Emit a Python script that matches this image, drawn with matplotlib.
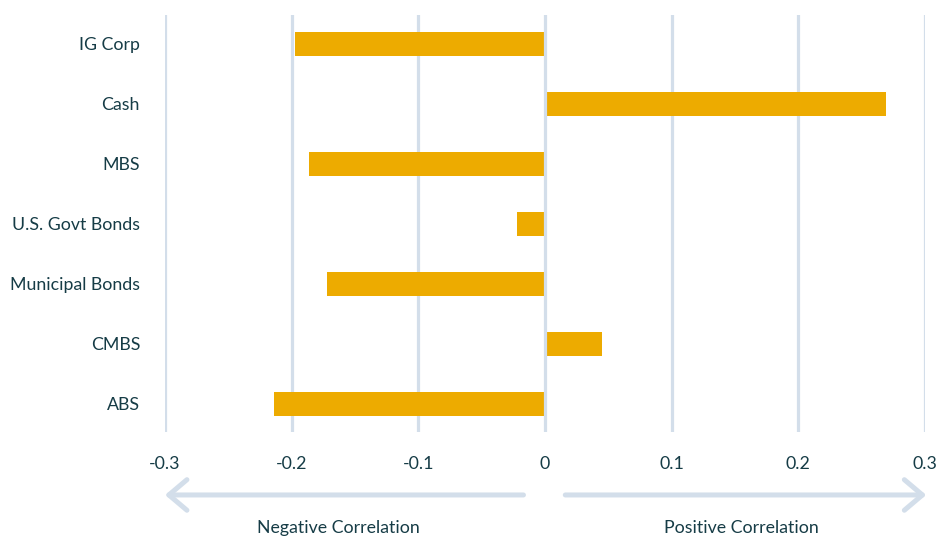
import matplotlib
matplotlib.use("Agg")
import matplotlib.pyplot as plt
import matplotlib.transforms as mtransforms

plt.rcParams['font.family'] = ['Lato', 'DejaVu Sans']

categories = ["IG Corp", "Cash", "MBS", "U.S. Govt Bonds", "Municipal Bonds", "CMBS", "ABS"]
correlations = [-0.197, 0.269, -0.186, -0.022, -0.172, 0.045, -0.214]
ticks = [-0.3, -0.2, -0.1, 0, 0.1, 0.2, 0.3]
tick_labels = ["-0.3", "-0.2", "-0.1", "0", "0.1", "0.2", "0.3"]

bar_color = "#EDAB00"
grid_color = "#D3DEEA"
text_color = "#163C46"

fig = plt.figure(figsize=(9.36, 5.4), dpi=100)
ax = fig.add_axes([165 / 936, 1 - 432 / 540, 760 / 936, 417 / 540])

ypos = list(range(len(categories)))
ax.barh(ypos, correlations, height=0.4, color=bar_color, zorder=2)

ax.set_xlim(-0.3, 0.3)
ax.set_ylim(6.47, -0.48)
ax.set_xticks(ticks)
ax.set_xticklabels(tick_labels)
ax.set_yticks(ypos)
ax.set_yticklabels(categories)
ax.tick_params(axis='both', length=0, labelsize=12.8, colors=text_color)
ax.tick_params(axis='y', pad=18)
ax.tick_params(axis='x', pad=17)
for lab in ax.get_xticklabels() + ax.get_yticklabels():
    lab.set_clip_on(False)

# grid behind the bars, zero line in front
for t in ticks:
    ax.axvline(t, color=grid_color, linewidth=2.3, zorder=3 if t == 0 else 1)

for s in ax.spines.values():
    s.set_visible(False)

# arrows under the axis
trans = mtransforms.blended_transform_factory(ax.transData, ax.transAxes)
arrow_y = -0.151
style = "->,head_length=1.3,head_width=1.1"
ax.annotate("", xy=(-0.3, arrow_y), xytext=(-0.017, arrow_y), xycoords=trans, textcoords=trans,
            arrowprops=dict(arrowstyle=style, color=grid_color, lw=3.6, shrinkA=0, shrinkB=0),
            annotation_clip=False)
ax.annotate("", xy=(0.301, arrow_y), xytext=(0.016, arrow_y), xycoords=trans, textcoords=trans,
            arrowprops=dict(arrowstyle=style, color=grid_color, lw=3.6, shrinkA=0, shrinkB=0),
            annotation_clip=False)

ax.text(-0.163, -0.23, "Negative Correlation", transform=trans, ha='center', va='center',
        fontsize=12.8, color=text_color)
ax.text(0.155, -0.23, "Positive Correlation", transform=trans, ha='center', va='center',
        fontsize=12.8, color=text_color)

fig.savefig("out.png", dpi=100)
